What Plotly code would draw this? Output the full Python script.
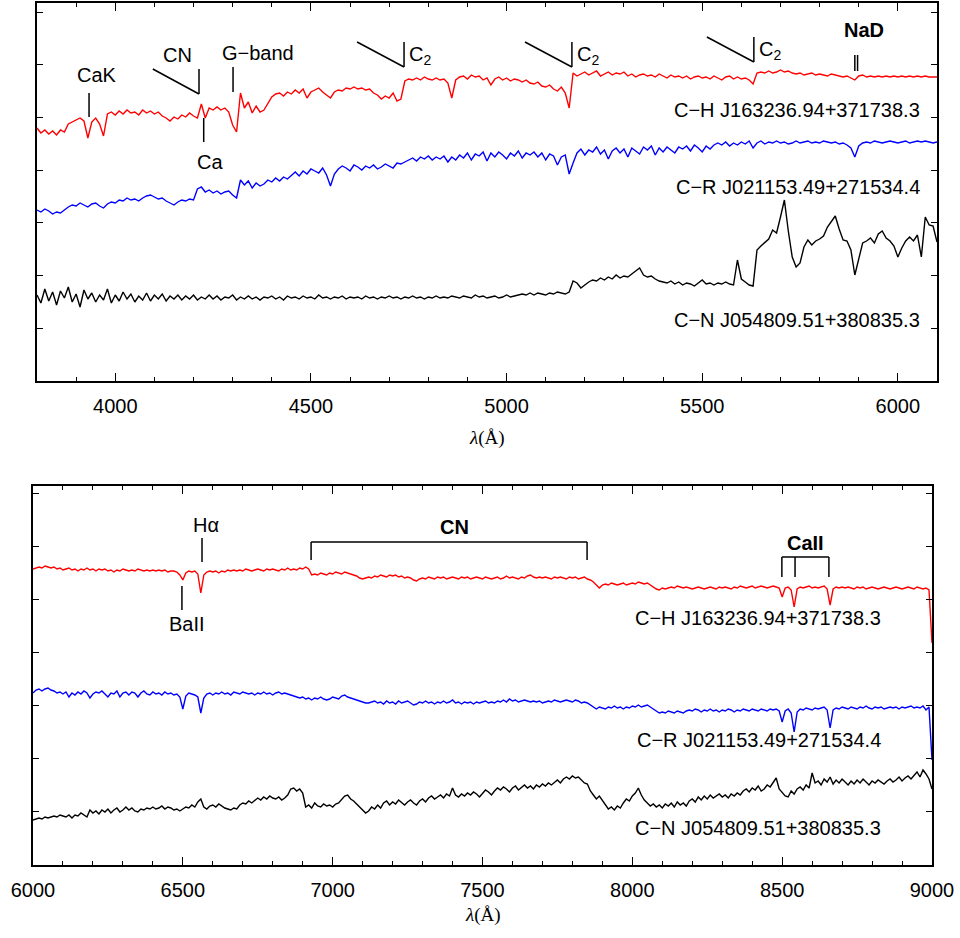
import plotly.graph_objects as go

# Wavelength sampling of the two spectrograph arms (Angstrom)
WAVE_BLUE_ARM = list(range(3800, 6101, 10))
WAVE_RED_ARM = list(range(6000, 9001, 10))

# Blue arm: offset fluxes (arbitrary units)
CH_BLUE = [
    253, 248, 251, 247, 250, 246, 251, 249, 257, 259,
    261, 263, 260, 243, 259, 263, 257, 245, 267, 269,
    266, 270, 267, 271, 268, 269, 266, 271, 268, 270,
    267, 269, 265, 263, 260, 264, 262, 266, 264, 268,
    265, 263, 277, 263, 273, 271, 274, 271, 273, 269,
    256, 249, 288, 273, 279, 268, 275, 269, 271, 277,
    284, 287, 288, 285, 289, 287, 291, 288, 292, 283,
    289, 291, 293, 289, 286, 283, 289, 291, 290, 293,
    292, 294, 292, 293, 291, 292, 288, 286, 282, 285,
    283, 288, 280, 282, 300, 302, 301, 303, 301, 304,
    302, 301, 303, 301, 302, 298, 283, 301, 304, 305,
    302, 306, 304, 305, 301, 303, 296, 302, 304, 301,
    303, 300, 302, 301, 299, 301, 298, 297, 299, 295,
    294, 296, 292, 290, 294, 288, 273, 308, 305, 307,
    309, 306, 308, 310, 305, 307, 309, 306, 308, 307,
    309, 305, 307, 304, 306, 307, 305, 306, 304, 307,
    305, 303, 306, 304, 305, 303, 305, 302, 304, 305,
    303, 304, 302, 305, 303, 301, 304, 305, 302, 304,
    302, 303, 301, 297, 308, 309, 308, 310, 308, 309,
    311, 309, 310, 308, 307, 308, 306, 307, 308, 306,
    307, 306, 305, 307, 306, 305, 304, 305, 303, 301,
    305, 306, 304, 305, 304, 305, 304, 305, 304, 305,
    304, 305, 304, 305, 304, 305, 304, 305, 304, 304,
    304,
]
CR_BLUE = [
    171, 169, 172, 170, 167, 169, 168, 171, 174, 176,
    175, 178, 176, 174, 177, 178, 175, 173, 177, 179,
    178, 181, 180, 183, 181, 182, 180, 183, 185, 186,
    184, 182, 183, 180, 178, 176, 179, 181, 180, 182,
    181, 192, 194, 189, 191, 188, 190, 187, 189, 190,
    186, 183, 201, 196, 200, 193, 198, 195, 197, 201,
    199, 203, 200, 204, 202, 206, 209, 205, 210, 207,
    212, 210, 208, 213, 206, 195, 207, 212, 215, 213,
    210, 216, 214, 211, 215, 213, 216, 212, 214, 217,
    215, 213, 218, 217, 219, 221, 223, 220, 224, 222,
    225, 221, 224, 222, 225, 219, 224, 221, 226, 223,
    228, 221, 227, 225, 229, 220, 228, 224, 229, 226,
    222, 228, 225, 230, 223, 228, 226, 229, 224, 228,
    221, 227, 225, 216, 224, 226, 207, 218, 228, 232,
    226, 231, 229, 234, 227, 231, 222, 230, 233, 228,
    232, 224, 233, 230, 227, 234, 231, 235, 226, 233,
    229, 234, 231, 228, 234, 232, 235, 230, 236, 233,
    229, 235, 232, 236, 238, 236, 239, 235, 238, 236,
    239, 237, 240, 233, 238, 240, 237, 239, 238, 240,
    238, 239, 237, 238, 240, 238, 239, 240, 238, 239,
    238, 240, 239, 238, 239, 237, 238, 236, 233, 224,
    235, 238, 239, 238, 240, 239, 238, 239, 240, 239,
    238, 239, 240, 238, 239, 240, 239, 240, 239, 238,
    239,
]
CN_BLUE = [
    86, 78, 92, 80, 89, 76, 90, 83, 94, 79,
    87, 74, 91, 82, 88, 79, 86, 81, 92, 78,
    86, 80, 89, 82, 87, 79, 85, 81, 88, 80,
    86, 82, 87, 80, 85, 82, 86, 81, 85, 82,
    86, 81, 84, 82, 86, 82, 85, 81, 84, 83,
    86, 81, 84, 82, 85, 82, 84, 81, 84, 83,
    85, 82, 84, 81, 85, 83, 84, 82, 85, 83,
    84, 82, 86, 83, 84, 82, 84, 83, 85, 82,
    84, 83, 84, 82, 85, 83, 84, 82, 84, 83,
    85, 83, 84, 82, 84, 83, 85, 83, 84, 82,
    84, 83, 85, 83, 84, 83, 85, 84, 83, 85,
    84, 83, 86, 84, 85, 83, 84, 85, 83, 84,
    86, 84, 85, 86, 87, 86, 88, 86, 88, 87,
    86, 88, 87, 89, 88, 87, 89, 100, 98, 93,
    96, 99, 101, 100, 103, 101, 104, 102, 106, 103,
    105, 104, 107, 110, 113, 106, 104, 105, 102, 100,
    99, 98, 100, 97, 99, 96, 98, 97, 95, 98,
    101, 97, 98, 96, 98, 97, 99, 97, 96, 121,
    102, 99, 96, 95, 131, 135, 139, 142, 151, 148,
    164, 181, 150, 124, 114, 118, 134, 141, 136, 140,
    142, 145, 154, 159, 165, 152, 141, 140, 131, 106,
    121, 138, 140, 143, 138, 147, 150, 143, 140, 135,
    124, 133, 140, 144, 140, 146, 124, 164, 156, 155,
    139,
]

# Red arm: offset fluxes (arbitrary units)
CH_RED = [
    296, 297, 298, 297, 299, 298, 297, 298, 296, 297,
    295, 296, 297, 295, 296, 294, 296, 295, 297, 295,
    296, 294, 296, 295, 296, 294, 295, 293, 295, 294,
    296, 295, 294, 295, 294, 296, 295, 294, 295, 294,
    295, 294, 295, 294, 295, 293, 294, 294, 293, 290,
    285, 292, 294, 293, 294, 291, 272, 290, 293, 294,
    293, 294, 292, 294, 293, 295, 294, 295, 294, 295,
    294, 296, 295, 294, 295, 296, 295, 294, 296, 295,
    296, 295, 294, 296, 295, 297, 295, 296, 295, 297,
    296, 298, 296, 290, 291, 290, 292, 291, 290, 292,
    291, 293, 292, 291, 293, 292, 291, 290, 289, 287,
    286, 287, 288, 287, 289, 288, 290, 289, 288, 290,
    289, 290, 288, 289, 287, 288, 287, 285, 284, 286,
    287, 286, 288, 287, 286, 288, 287, 288, 286, 287,
    288, 287, 286, 288, 287, 288, 286, 287, 288, 287,
    286, 288, 287, 286, 287, 288, 286, 287, 289, 287,
    288, 287, 286, 288, 287, 289, 290, 288, 287, 288,
    287, 288, 287, 286, 288, 287, 288, 287, 286, 288,
    287, 288, 286, 287, 288, 286, 285, 283, 280, 277,
    280, 281, 280, 282, 281, 280, 281, 282, 280, 281,
    282, 281, 283, 282, 281, 282, 280, 278, 276, 275,
    277, 276, 277, 278, 277, 279, 278, 277, 278, 277,
    276, 277, 278, 277, 276, 277, 278, 277, 276, 278,
    277, 278, 277, 276, 278, 277, 279, 278, 277, 278,
    279, 277, 278, 279, 278, 277, 278, 279, 278, 277,
    268, 277, 278, 275, 258, 276, 278, 277, 278, 279,
    277, 278, 277, 278, 279, 276, 260, 276, 278, 277,
    278, 277, 278, 277, 276, 278, 277, 278, 276, 277,
    278, 277, 276, 277, 278, 277, 276, 277, 278, 277,
    276, 277, 278, 277, 276, 278, 277, 276, 277, 275,
    222,
]
CR_RED = [
    172, 175, 176, 174, 176, 177, 175, 174, 172, 173,
    171, 173, 168, 172, 170, 173, 171, 174, 172, 167,
    171, 173, 172, 174, 171, 168, 172, 171, 174, 168,
    172, 173, 170, 173, 172, 168, 172, 174, 171, 170,
    173, 171, 172, 170, 173, 171, 172, 170, 171, 168,
    156, 169, 172, 171, 170, 168, 152, 167, 171, 172,
    170, 172, 171, 173, 171, 172, 170, 173, 172, 171,
    173, 172, 171, 172, 170, 172, 171, 173, 171, 172,
    170, 172, 173, 171, 172, 171, 170, 169, 168, 167,
    168, 166, 167, 165, 167, 166, 168, 166, 165, 166,
    168, 167, 166, 169, 170, 168, 167, 166, 165, 164,
    163, 162, 162, 163, 164, 162, 163, 161, 164, 162,
    163, 161, 164, 162, 163, 164, 162, 160, 161, 163,
    162, 164, 162, 163, 161, 163, 162, 164, 162, 163,
    165, 162, 163, 161, 163, 162, 163, 161, 163, 162,
    163, 164, 162, 163, 162, 164, 163, 165, 163, 166,
    164, 165, 163, 164, 165, 164, 163, 164, 163, 164,
    162, 163, 164, 163, 165, 164, 163, 164, 165, 164,
    163, 165, 164, 162, 163, 162, 160, 158, 156, 158,
    157, 156, 158, 157, 159, 157, 158, 156, 158, 157,
    159, 158, 160, 158, 159, 160, 158, 156, 154, 152,
    153, 152, 154, 153, 152, 154, 153, 152, 154, 155,
    154, 156, 155, 153, 155, 154, 156, 154, 155, 153,
    155, 154, 156, 155, 153, 155, 154, 156, 155, 154,
    156, 155, 154, 156, 155, 154, 156, 155, 156, 154,
    143, 154, 156, 152, 133, 153, 156, 155, 157, 156,
    155, 157, 156, 157, 158, 155, 137, 155, 157, 156,
    158, 157, 156, 158, 157, 156, 158, 157, 159, 157,
    156, 158, 157, 158, 156, 157, 158, 157, 158, 156,
    158, 157, 158, 159, 157, 158, 157, 159, 155, 158,
    105,
]
CN_RED = [
    45, 46, 47, 46, 48, 47, 48, 49, 48, 50,
    49, 48, 50, 47, 50, 49, 52, 50, 48, 55,
    52, 54, 51, 55, 53, 56, 52, 55, 57, 53,
    55, 58, 55, 57, 54, 53, 56, 55, 57, 56,
    58, 56, 57, 59, 56, 58, 57, 55, 56, 54,
    56, 58, 57, 60, 58, 63, 66, 58, 56, 59,
    60, 58, 61, 59, 57, 56, 55, 57, 56, 60,
    62, 61, 64, 62, 65, 67, 65, 68, 66, 69,
    67, 66, 68, 65, 67, 70, 76, 77, 74, 76,
    72, 58, 60, 57, 62, 59, 58, 61, 59, 60,
    58, 61, 62, 66, 69, 70, 66, 64, 61, 57,
    55, 52, 54, 58, 56, 60, 57, 62, 64, 60,
    63, 61, 65, 62, 60, 63, 65, 62, 60, 64,
    66, 63, 67, 69, 66, 68, 70, 67, 71, 69,
    77, 70, 68, 71, 69, 72, 70, 73, 71, 68,
    72, 75, 73, 70, 74, 77, 75, 78, 76, 73,
    77, 79, 75, 78, 80, 77, 79, 76, 80, 78,
    81, 79, 82, 80, 83, 85, 82, 86, 88, 86,
    89, 87, 88, 85, 82, 81, 74, 70, 66, 69,
    65, 60, 56, 58, 55, 59, 57, 62, 66, 64,
    69, 72, 77, 70, 65, 62, 59, 61, 58, 60,
    57, 61, 59, 62, 58, 63, 60, 62, 59, 64,
    66, 63, 68, 65, 69, 66, 70, 67, 69, 71,
    68, 70, 67, 71, 69, 72, 70, 74, 76, 73,
    77, 75, 79, 74, 76, 80, 78, 83, 87, 76,
    72, 69, 68, 74, 71, 76, 78, 75, 80, 77,
    92, 82, 84, 80, 86, 83, 88, 81, 85, 82,
    86, 83, 80, 84, 81, 85, 82, 86, 83, 80,
    84, 82, 85, 83, 81, 84, 86, 83, 85, 88,
    84, 87, 89, 86, 90, 93, 88, 95, 91, 86,
    76,
]

STARS = ["C\u2212H J163236.94+371738.3",
         "C\u2212R J021153.49+271534.4",
         "C\u2212N J054809.51+380835.3"]
COLORS = ["#ff0000", "#0000ff", "#000000"]

for arr in (CH_BLUE, CR_BLUE, CN_BLUE):
    assert len(arr) == len(WAVE_BLUE_ARM), len(arr)
for arr in (CH_RED, CR_RED, CN_RED):
    assert len(arr) == len(WAVE_RED_ARM), len(arr)

SANS = "Liberation Sans, Arial, Helvetica, sans-serif"
SERIF = "Liberation Serif, Times New Roman, serif"
W, H = 960, 938

fig = go.Figure()
for flux, col in zip((CH_BLUE, CR_BLUE, CN_BLUE), COLORS):
    fig.add_trace(go.Scatter(x=WAVE_BLUE_ARM, y=flux, mode="lines",
                             line=dict(color=col, width=1.4),
                             xaxis="x", yaxis="y", hoverinfo="skip"))
for flux, col in zip((CH_RED, CR_RED, CN_RED), COLORS):
    fig.add_trace(go.Scatter(x=WAVE_RED_ARM, y=flux, mode="lines",
                             line=dict(color=col, width=1.4),
                             xaxis="x2", yaxis="y2", hoverinfo="skip"))


def xax(domain, rng, anchor):
    return dict(domain=domain, range=rng, anchor=anchor, automargin=False,
                showline=True, linecolor="black", linewidth=2,
                mirror="allticks", ticks="inside", ticklen=8, tickwidth=1,
                tickcolor="black", dtick=500, tick0=0, showgrid=False,
                zeroline=False, ticklabelstandoff=6,
                tickfont=dict(family=SANS, size=20, color="black"),
                minor=dict(dtick=100, tick0=0, ticks="inside", ticklen=4,
                           tickcolor="black", tickwidth=1, showgrid=False))


def yax(domain, rng, step, anchor):
    return dict(domain=domain, range=rng, anchor=anchor, automargin=False,
                showline=True, linecolor="black", linewidth=2,
                mirror="allticks", ticks="inside", ticklen=6, tickwidth=1,
                tickcolor="black", dtick=step, tick0=0, showgrid=False,
                zeroline=False, showticklabels=False)


fig.update_layout(
    width=W, height=H, margin=dict(l=0, r=0, t=0, b=0),
    paper_bgcolor="white", plot_bgcolor="white", showlegend=False,
    xaxis=xax([37 / W, 937 / W], [3800, 6100], "y"),
    yaxis=yax([1 - 381 / H, 1 - 3 / H], [0, 378], 52.7, "x"),
    xaxis2=xax([33 / W, 932 / W], [6000, 9000], "y2"),
    yaxis2=yax([1 - 865 / H, 1 - 486 / H], [0, 379], 53.1, "x2"),
)

ann = []
shapes = []


def label(x, y, text, ax="x", ay="y", xanchor="center", size=20):
    ann.append(dict(x=x, y=y, xref=ax, yref=ay, text=text, showarrow=False,
                    xanchor=xanchor, yanchor="middle",
                    font=dict(family=SANS, size=size, color="black")))


def seg(x0, y0, x1, y1, ax="x", ay="y"):
    shapes.append(dict(type="line", xref=ax, yref=ay, x0=x0, y0=y0,
                       x1=x1, y1=y1, line=dict(color="black", width=1.5)))


# Blue-arm line identifications
seg(3933, 264, 3933, 288)
label(3953, 306, "CaK")
seg(4096, 312, 4214, 287)
seg(4214, 287, 4214, 312)
label(4158, 326, "CN")
seg(4226, 239, 4226, 263)
label(4242, 219, "Ca")
seg(4301, 289, 4301, 314)
label(4365, 328, "G\u2212band")
for x0, x1, yb, xt in ((4618, 4738, 314, 4746), (5047, 5167, 314, 5175),
                       (5512, 5632, 319, 5640)):
    seg(x0, yb + 25, x1, yb)
    seg(x1, yb, x1, yb + 25)
    label(xt, yb + 12, "C<sub>2</sub>", xanchor="left")
seg(5890, 310, 5890, 326)
seg(5897, 310, 5897, 326)
label(5913, 351, "<b>NaD</b>")
for name, yv in zip(STARS, (271, 194, 61)):
    label(6062, yv, name, xanchor="right")

# Red-arm line identifications
seg(6564, 303, 6564, 327, "x2", "y2")
label(6577, 340, "H\u03b1", "x2", "y2")
seg(6497, 255, 6497, 279, "x2", "y2")
label(6514, 241, "BaII", "x2", "y2")
seg(6928, 305, 6928, 323, "x2", "y2")
seg(6928, 323, 7849, 323, "x2", "y2")
seg(7849, 323, 7849, 305, "x2", "y2")
label(7408, 338, "<b>CN</b>", "x2", "y2")
seg(8499, 288, 8499, 308, "x2", "y2")
seg(8499, 308, 8656, 308, "x2", "y2")
seg(8656, 308, 8656, 288, "x2", "y2")
seg(8543, 288, 8543, 308, "x2", "y2")
label(8579, 322, "<b>CaII</b>", "x2", "y2")
for name, yv in zip(STARS, (247, 125, 37)):
    label(8836, yv, name, "x2", "y2", xanchor="right")

# Axis titles
for ypix, xpix in ((438, 487), (915, 483)):
    ann.append(dict(x=xpix / W, y=1 - ypix / H, xref="paper", yref="paper",
                    text="<i>\u03bb</i>(\u00c5)", showarrow=False,
                    xanchor="center", yanchor="middle",
                    font=dict(family=SERIF, size=19, color="black")))

fig.update_layout(annotations=ann, shapes=shapes)
fig.write_html("out.html")
